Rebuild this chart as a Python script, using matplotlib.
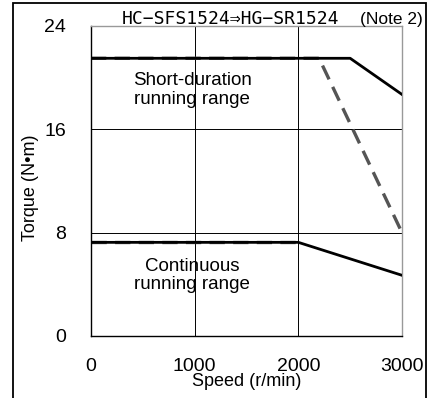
import matplotlib
matplotlib.use("Agg")
import matplotlib.pyplot as plt
from matplotlib.patches import Rectangle

plt.rcParams['font.family'] = ['Liberation Sans', 'DejaVu Sans']
plt.rcParams['lines.scale_dashes'] = False

# Data
short_speed = [0, 2500, 3000]
short_torque = [21.5, 21.5, 18.7]
short_new_speed = [0, 2200, 3000]
short_new_torque = [21.5, 21.5, 8.0]
cont_speed = [0, 2000, 3000]
cont_torque = [7.25, 7.25, 4.7]
cont_new_speed = [0, 2000]
cont_new_torque = [7.25, 7.25]
x_ticks = [0, 1000, 2000, 3000]
y_ticks = [0, 8, 16, 24]

fig = plt.figure(figsize=(4.33, 3.98), dpi=100)
ax = fig.add_axes([91/433, 1-336/398, 311/433, 310/398])

ax.set_xlim(0, 3000)
ax.set_ylim(0, 24)

# grid
for gx in [1000, 2000]:
    ax.axvline(gx, color='black', lw=0.7, zorder=1)
for gy in [8, 16]:
    ax.axhline(gy, color='black', lw=0.7, zorder=1)

ax.plot(short_new_speed, short_new_torque, color='#555555', lw=2.4,
        dashes=(11, 6), zorder=2, solid_capstyle='butt')
ax.plot(cont_new_speed, cont_new_torque, color='#555555', lw=2.4,
        dashes=(11, 6), zorder=2)
ax.plot(short_speed, short_torque, color='black', lw=2.0, zorder=3)
ax.plot(cont_speed, cont_torque, color='black', lw=2.0, zorder=3)

ax.set_xticks(x_ticks)
ax.set_yticks(y_ticks)
ax.set_xticklabels([str(v) for v in x_ticks])
ax.set_yticklabels([str(v) for v in y_ticks])
ax.tick_params(axis='both', length=0, labelsize=14)
ax.tick_params(axis='x', pad=15.5)
ax.tick_params(axis='y', pad=18)

for s in ['left', 'bottom']:
    ax.spines[s].set_color('black')
    ax.spines[s].set_linewidth(1.0)
for s in ['top', 'right']:
    ax.spines[s].set_color('#999999')
    ax.spines[s].set_linewidth(1.0)

ax.text(975, 19.05, 'Short-duration\nrunning range', ha='center', va='center',
        fontsize=13.5, linespacing=1.1, zorder=4)
ax.text(975, 4.68, 'Continuous\nrunning range', ha='center', va='center',
        fontsize=13.5, linespacing=1.1, zorder=4)

ax.text(0.5, -0.148, 'Speed (r/min)', transform=ax.transAxes, ha='center',
        va='center', fontsize=13)
ax.text(-0.196, 0.479, 'Torque (N•m)', transform=ax.transAxes, ha='center',
        va='center', fontsize=13, rotation=90)

fig.text(122/433, 1-24/398, 'HC\u2212SFS1524\u21D2HG\u2212SR1524',
         family=['DejaVu Sans Mono', 'DejaVu Sans'], fontsize=13,
         ha='left', va='baseline')
fig.text(423/433, 1-24/398, '(Note 2)', fontsize=12.5, ha='right', va='baseline')

# outer frame
fig.patches.append(Rectangle((13/433, -0.2), (426-13)/433, 1.2 - 3/398,
                             transform=fig.transFigure, fill=False,
                             edgecolor='black', lw=1.3))

fig.savefig('out.png', dpi=100)
